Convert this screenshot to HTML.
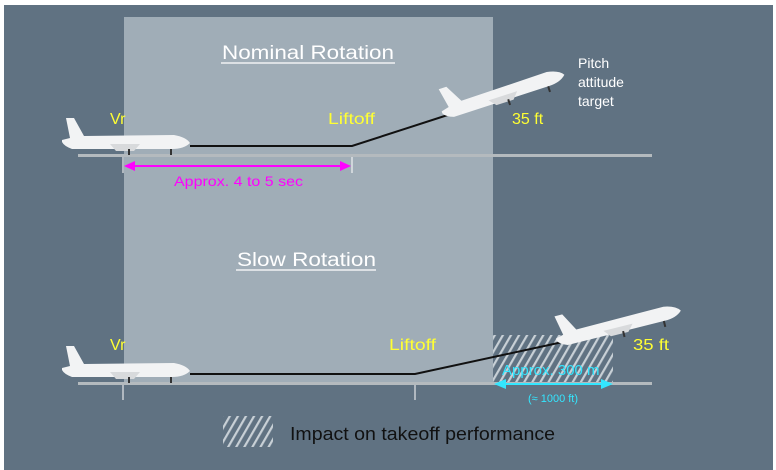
<!DOCTYPE html>
<html><head><meta charset="utf-8"><style>
html,body{margin:0;padding:0;background:#fff}
svg{display:block}
text{font-family:"Liberation Sans",sans-serif}
</style></head><body>
<svg width="776" height="470" viewBox="0 0 776 470" xmlns="http://www.w3.org/2000/svg">
<defs>
<pattern id="h" width="7" height="7" patternUnits="userSpaceOnUse" patternTransform="rotate(30)">
<rect width="7" height="7" fill="none"/><rect width="2.2" height="7" fill="#c8d0d6"/>
</pattern>
<g id="plane">
<path d="M0,12 L8,10 L4,-10 L12,-10 L22,8 L112,7 Q124,9 128,15 Q122,21 110,21 L10,21 Q2,18 0,14Z" fill="#f2f3f4"/>
<path d="M48,16 L78,16 L72,23 L54,23Z" fill="#d8dadc"/>
<rect x="66" y="21" width="2" height="6" fill="#333"/><rect x="108" y="21" width="2" height="6" fill="#333"/>
</g>
</defs>
<rect x="0" y="0" width="776" height="470" fill="#fff"/>
<rect x="4" y="5" width="769" height="465" fill="#607282"/>
<rect x="124" y="17" width="369" height="366" fill="#a0adb7"/>
<!-- top -->
<text x="222" y="59" font-size="19" fill="#fff" textLength="172" lengthAdjust="spacingAndGlyphs">Nominal Rotation</text>
<line x1="221" y1="63" x2="395" y2="63" stroke="#fff" stroke-width="1.2"/>
<text x="578" y="68" font-size="14" fill="#fff">Pitch</text>
<text x="578" y="87" font-size="14" fill="#fff">attitude</text>
<text x="578" y="106" font-size="14" fill="#fff">target</text>
<rect x="78" y="154" width="574" height="3" fill="#b4babe"/>
<polyline points="190,146 352,146 457,112" fill="none" stroke="#111" stroke-width="2"/>
<use href="#plane" x="62" y="128"/>
<g transform="translate(438,100) rotate(-18)"><use href="#plane"/></g>
<text x="110" y="124" font-size="16" fill="#ffff33">Vr</text>
<text x="328" y="124" font-size="16" fill="#ffff33" textLength="47" lengthAdjust="spacingAndGlyphs">Liftoff</text>
<text x="512" y="124" font-size="16" fill="#ffff33">35 ft</text>
<line x1="123" y1="157" x2="123" y2="173" stroke="#fff"/>
<line x1="352" y1="157" x2="352" y2="173" stroke="#fff"/>
<line x1="132" y1="166" x2="343" y2="166" stroke="#ff00ff" stroke-width="2"/>
<polygon points="124,166 135,161 135,171" fill="#ff00ff"/>
<polygon points="351,166 340,161 340,171" fill="#ff00ff"/>
<text x="174" y="186" font-size="14" fill="#ff00ff" textLength="129" lengthAdjust="spacingAndGlyphs">Approx. 4 to 5 sec</text>
<!-- bottom -->
<text x="237" y="266" font-size="19" fill="#fff" textLength="139" lengthAdjust="spacingAndGlyphs">Slow Rotation</text>
<line x1="236" y1="270" x2="376" y2="270" stroke="#fff" stroke-width="1.2"/>
<rect x="493" y="335" width="120" height="48" fill="url(#h)"/>
<rect x="78" y="382" width="574" height="3" fill="#b4babe"/>
<polyline points="190,374 415,374 572,340" fill="none" stroke="#111" stroke-width="2"/>
<use href="#plane" x="62" y="356"/>
<g transform="translate(553,327) rotate(-14)"><use href="#plane"/></g>
<text x="110" y="350" font-size="16" fill="#ffff33">Vr</text>
<text x="389" y="350" font-size="16" fill="#ffff33" textLength="47" lengthAdjust="spacingAndGlyphs">Liftoff</text>
<text x="633" y="350" font-size="16" fill="#ffff33" textLength="36" lengthAdjust="spacingAndGlyphs">35 ft</text>
<text x="502" y="375" font-size="15" fill="#33e6ff">Approx. 300 m</text>
<line x1="123" y1="385" x2="123" y2="400" stroke="#fff"/>
<line x1="415" y1="385" x2="415" y2="400" stroke="#fff"/>
<line x1="502" y1="384" x2="605" y2="384" stroke="#33e6ff" stroke-width="2"/>
<polygon points="494,384 506,379 506,389" fill="#33e6ff"/>
<polygon points="613,384 601,379 601,389" fill="#33e6ff"/>
<text x="553" y="402" font-size="11" fill="#33e6ff" text-anchor="middle">(≈ 1000 ft)</text>
<rect x="223" y="416" width="50" height="31" fill="url(#h)"/>
<text x="290" y="440" font-size="18" fill="#111" textLength="265" lengthAdjust="spacingAndGlyphs">Impact on takeoff performance</text>
</svg>
</body></html>
